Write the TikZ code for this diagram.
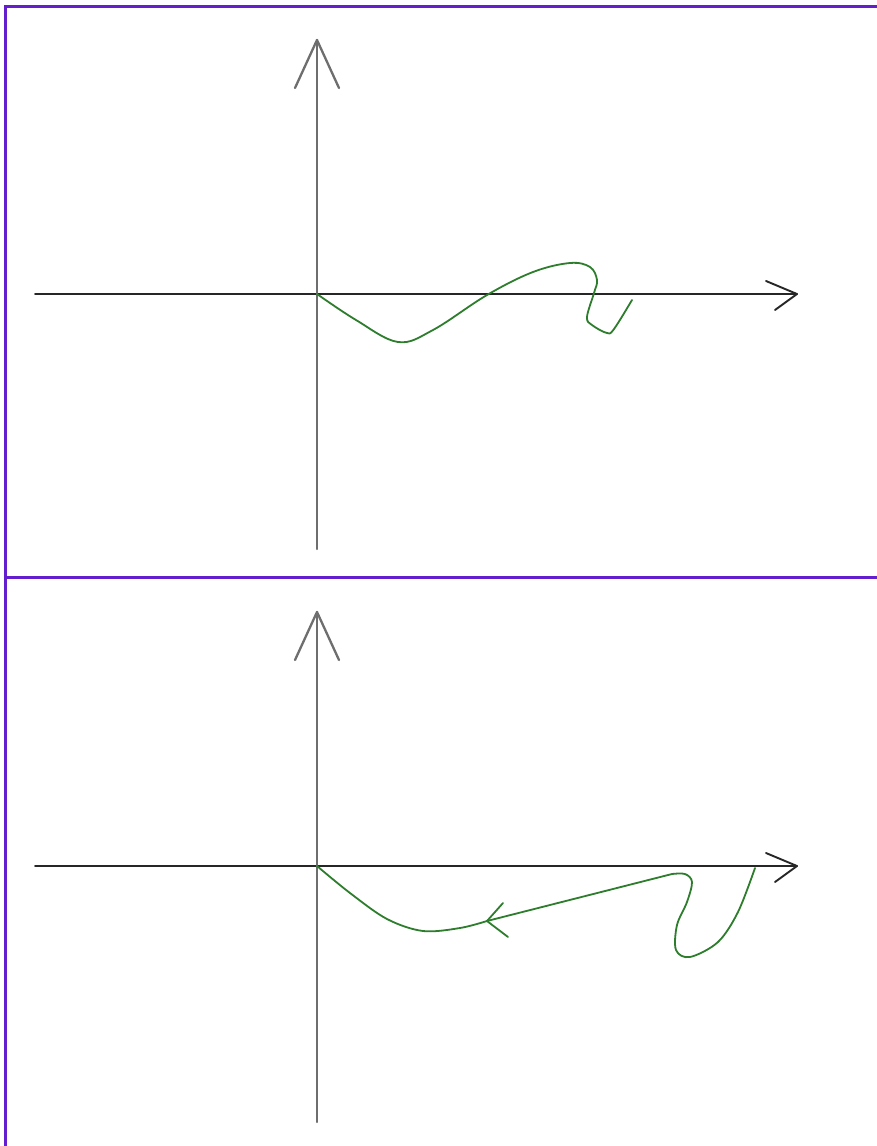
\documentclass[tikz,border=0pt]{standalone}
\usetikzlibrary{calc}
\definecolor{framepurple}{RGB}{100,30,205}
\definecolor{curvegreen}{RGB}{45,125,45}
\definecolor{axisgray}{RGB}{110,110,110}
\begin{document}
\begin{tikzpicture}[x=1pt,y=-1pt,
  frame/.style={draw=framepurple,line width=3pt},
  haxis/.style={draw=black!85,line width=1.9pt,line cap=round,line join=round},
  vaxis/.style={draw=axisgray,line width=2.3pt,line cap=round,line join=round},
  curve/.style={draw=curvegreen,line width=1.8pt,line cap=round,line join=round}]
\useasboundingbox (0,0) rectangle (877,1146);
\fill[white] (0,0) rectangle (877,1146);
% frame
\draw[frame] (5,1146) -- (5,6) -- (877,6);
\draw[frame] (5,577) -- (877,577);

% ---------- top panel ----------
\coordinate (tO) at (317,294);
\coordinate (tXl) at (35,294);
\coordinate (tXr) at (797,294);
\coordinate (tYt) at (317,40);
\coordinate (tYb) at (317,549);
\draw[haxis] (tXl) -- (tXr);
\draw[haxis] (766,281) -- (tXr) -- (775,310);
\draw[vaxis] (tYb) -- (tYt);
\draw[vaxis] (295,88) -- (tYt) -- (339,88);
\draw[curve] plot[smooth,tension=0.6] coordinates {(tO) (356,320) (398,342) (433,330) (487,295) (533,272) (570,263) (590,267) (597,280) (594,293) (587,317) (592,325) (607,333) (614,329) (632,300)};

% ---------- bottom panel ----------
\coordinate (bO) at (317,866);
\coordinate (bXl) at (35,866);
\coordinate (bXr) at (797,866);
\coordinate (bYt) at (317,612);
\coordinate (bYb) at (317,1122);
\coordinate (bTip) at (487,921);
\draw[haxis] (bXl) -- (bXr);
\draw[haxis] (766,853) -- (bXr) -- (775,882);
\draw[vaxis] (bYb) -- (bYt);
\draw[vaxis] (295,660) -- (bYt) -- (339,660);
\draw[curve] plot[smooth,tension=0.55] coordinates {(bO) (350,893) (387,919) (423,931) (460,928) (bTip)}
  -- (672,874)
  -- plot[smooth,tension=0.55] coordinates {(672,874) (685,874) (692,882) (687,902) (677,925) (676,950) (690,957) (718,942) (738,912) (755,868)};
\draw[curve] (503,903) -- (bTip) -- (508,937);
\end{tikzpicture}
\end{document}
